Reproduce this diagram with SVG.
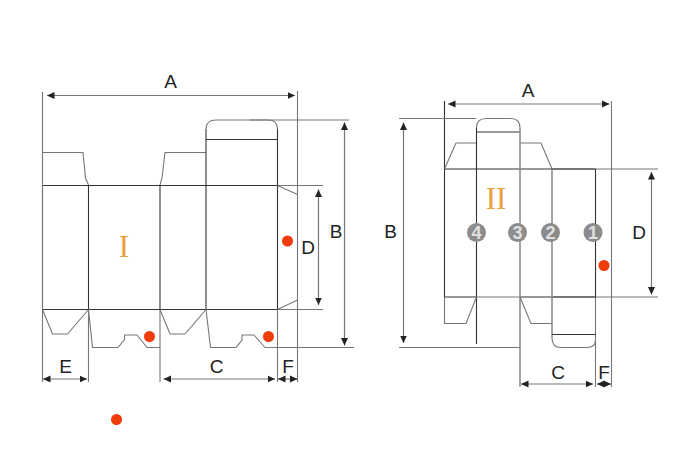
<svg xmlns="http://www.w3.org/2000/svg" width="685" height="465" viewBox="0 0 685 465">
<defs>
<marker id="a" markerUnits="userSpaceOnUse" markerWidth="9" markerHeight="8" refX="7.5" refY="4" orient="auto-start-reverse"><path d="M0 .5L7.5 4L0 7.5Z" fill="#222"/></marker>
</defs>
<style>
.k{fill:none;stroke:#333;stroke-width:1.1}
.g{fill:none;stroke:#777;stroke-width:1.1}
.h{fill:none;stroke:#8f8f8f;stroke-width:1.6}
.d{fill:none;stroke:#777;stroke-width:1.2;marker-start:url(#a);marker-end:url(#a)}
.t{font:19px "Liberation Sans",Arial,sans-serif;fill:#222;text-anchor:middle}
.r{font:31px "Liberation Serif","Times New Roman",serif;fill:#e8a040;text-anchor:middle}
.n{fill:#8c8c8c}
.w{font:bold 18px "Liberation Sans",Arial,sans-serif;fill:#e0e0e0;text-anchor:middle}
.p{fill:#f03c0a}
</style>
<rect width="685" height="465" fill="#fff"/>
<g id="connectors">
<path class="g" d="M42.5 92V382M297.5 91V382M160 309.5V382M88.5 309.5V382M277.5 309.5V382"/>
<path class="g" d="M250 120H349M277.5 185.5H323M277.5 309.5H323M265 347.5H354"/>
<path class="d" d="M47 95.5H295"/>
<path class="d" d="M344.5 122.5V345.5"/>
<path class="d" d="M318.5 189.5V305"/>
<path class="d" d="M43 379H87"/>
<path class="d" d="M163.5 379H275"/>
<path class="d" d="M278 379H297.5"/>
<path class="k" d="M444.5 101V169M476.5 297V344"/>
<path class="g" d="M611.5 101V387M595.5 297V387"/>
<path class="h" d="M520 297V387"/>
<path class="g" d="M399 118.5H476M399 347.5H520M552 169H658M552 297H658"/>
<path class="d" d="M448 104H609.5"/>
<path class="d" d="M403.5 122.5V343"/>
<path class="d" d="M651.5 172V294.5"/>
<path class="d" d="M521 384H593"/>
<path class="d" d="M597 384H611"/>
</g>
<g id="box-1">
<path class="g" d="M42.5 152.5H83L85.5 178L88.5 185M160 185L162 178L165 152.5H206"/>
<path class="k" d="M42.5 185.5H277.5M42.5 309.5H277.5M88.5 185V309.5M160 185V309.5M206 129V309.5M277.5 129V309.5M206 139.5H277.5"/>
<path class="g" d="M206 129Q206 120 216 120H268Q277.5 120 277.5 129M42.5 185V309.5"/>
<path class="g" d="M277.5 185.5L297.5 194.5M277.5 309.5L297.5 300"/>
<path class="g" d="M42.5 309.5L52.5 334H67.5L88.5 309.5M160 309.5L170 334H185L206 309.5"/>
<path class="g" d="M88.5 309.5L92.5 347.5H118L124.5 339.5V335H137L147 347.5H160M206 309.5L210.5 347.5H236L242 340V335H254L265 347.5"/>
<text class="r" x="124" y="257">I</text>
</g>
<g id="box-2">
<path class="g" d="M444.5 169L456 143H476.5M520 143H541L552 169"/>
<path class="k" d="M444.5 169H595.5M444.5 297H476.5M520 297H595.5M476.5 128V297M476.5 132H520"/>
<path class="g" d="M476.5 297H520"/>
<path class="k" d="M444.5 169V297"/>
<path class="g" d="M476.5 128Q476.5 118.5 486 118.5H511Q520 118.5 520 128"/>
<path class="h" d="M520 128V297M552 169V338"/>
<path class="k" d="M595.5 169V297"/>
<path class="g" d="M444.5 297V323.5H466L476.5 297M520 297L531 323.5H552"/>
<path class="g" d="M552 338Q552 347.5 561 347.5H587Q595.5 347.5 595.5 340"/>
<path class="k" d="M552 334.5H595.5"/>
<text class="r" x="496" y="209">II</text>
</g>
<g id="num-4"><circle class="n" cx="476.5" cy="232.5" r="9.5"/><text class="w" x="476.5" y="239">4</text></g>
<g id="num-3"><circle class="n" cx="517.5" cy="232.5" r="9.5"/><text class="w" x="517.5" y="239">3</text></g>
<g id="num-2"><circle class="n" cx="550.5" cy="232.5" r="9.5"/><text class="w" x="550.5" y="239">2</text></g>
<g id="num-1"><circle class="n" cx="593" cy="232.5" r="9.5"/><text class="w" x="593" y="239">1</text></g>
<g id="dots">
<circle class="p" cx="149.5" cy="336.5" r="5.5"/>
<circle class="p" cx="116.5" cy="419.5" r="5.5"/>
<circle class="p" cx="287.5" cy="241" r="5.5"/>
<circle class="p" cx="268.5" cy="336.5" r="5.5"/>
<circle class="p" cx="604" cy="265.5" r="5.5"/>
</g>
<g id="labels">
<text class="t" x="170.5" y="88">A</text>
<text class="t" x="65.5" y="373">E</text>
<text class="t" x="216.5" y="373">C</text>
<text class="t" x="288" y="373">F</text>
<text class="t" x="308" y="254">D</text>
<text class="t" x="336" y="238">B</text>
<text class="t" x="528" y="97">A</text>
<text class="t" x="390.5" y="238">B</text>
<text class="t" x="639" y="239">D</text>
<text class="t" x="558" y="379">C</text>
<text class="t" x="604" y="379">F</text>
</g>
</svg>
